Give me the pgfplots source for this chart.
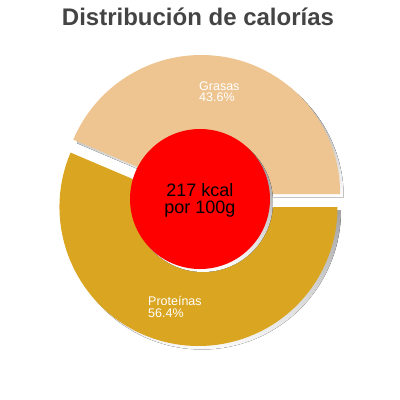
\documentclass[border=0pt]{standalone}
\usepackage{pgfplots}
\pgfplotsset{compat=1.18}
\usepackage{pgfplotstable}
\usepackage{fontspec}
\setmainfont{Liberation Sans}

\definecolor{grasas}{HTML}{EEC591}
\definecolor{proteinas}{HTML}{DAA520}
\definecolor{shade}{HTML}{5E5E5E}
\definecolor{titlegray}{HTML}{444444}

% share of calories, percent
\pgfplotstableread{
name value
Grasas 43.6
Proteinas 56.4
}\kcaldata

\pgfplotstablegetelem{0}{value}\of\kcaldata
\pgfmathsetmacro\angG{3.6*\pgfplotsretval}

\begin{document}
\begin{tikzpicture}
  \begin{axis}[
    at={(0,0)}, anchor=south west,
    width=400bp, height=400bp, scale only axis,
    xmin=0, xmax=400, ymin=0, ymax=400, y dir=reverse,
    hide axis, clip=false
    ]
    % shadows
    \fill[shade] ([shift={(3.5bp,-3.5bp)}]axis cs:201.2,194) -- ++(0:139bp)
      arc[start angle=0, end angle=\angG, radius=139bp] -- cycle;
    \fill[shade] ([shift={(3.5bp,-3.5bp)}]axis cs:198.5,207) -- ++(\angG:139bp)
      arc[start angle=\angG, end angle=360, radius=139bp] -- cycle;
    % wedges
    \fill[grasas] (axis cs:201.2,194) -- ++(0:139bp)
      arc[start angle=0, end angle=\angG, radius=139bp] -- cycle;
    \fill[proteinas] (axis cs:198.5,207) -- ++(\angG:139bp)
      arc[start angle=\angG, end angle=360, radius=139bp] -- cycle;
    % centre disc
    \fill[shade] ([shift={(3bp,-3bp)}]axis cs:200,199) circle[radius=70bp];
    \fill[red] (axis cs:200,199) circle[radius=70bp];

    \node[anchor=base, font=\fontsize{18bp}{18bp}\selectfont] at (axis cs:200,196) {217 kcal};
    \node[anchor=base, font=\fontsize{18bp}{18bp}\selectfont] at (axis cs:200,213) {por 100g};

    \node[anchor=base west, text=white, font=\fontsize{12.5bp}{12.5bp}\selectfont, inner sep=0pt] at (axis cs:199,90) {Grasas};
    \node[anchor=base west, text=white, font=\fontsize{12.5bp}{12.5bp}\selectfont, inner sep=0pt] at (axis cs:199,101.5) {43.6\%};
    \node[anchor=base west, text=white, font=\fontsize{12.5bp}{12.5bp}\selectfont, inner sep=0pt] at (axis cs:148,305.5) {Proteínas};
    \node[anchor=base west, text=white, font=\fontsize{12.5bp}{12.5bp}\selectfont, inner sep=0pt] at (axis cs:148,317.5) {56.4\%};

    \node[anchor=base, text=titlegray, font=\bfseries\fontsize{24bp}{24bp}\selectfont] at (axis cs:198,25) {Distribución de calorías};
  \end{axis}
  \pgfresetboundingbox
  \path (0,0) rectangle (400bp,400bp);
\end{tikzpicture}
\end{document}
